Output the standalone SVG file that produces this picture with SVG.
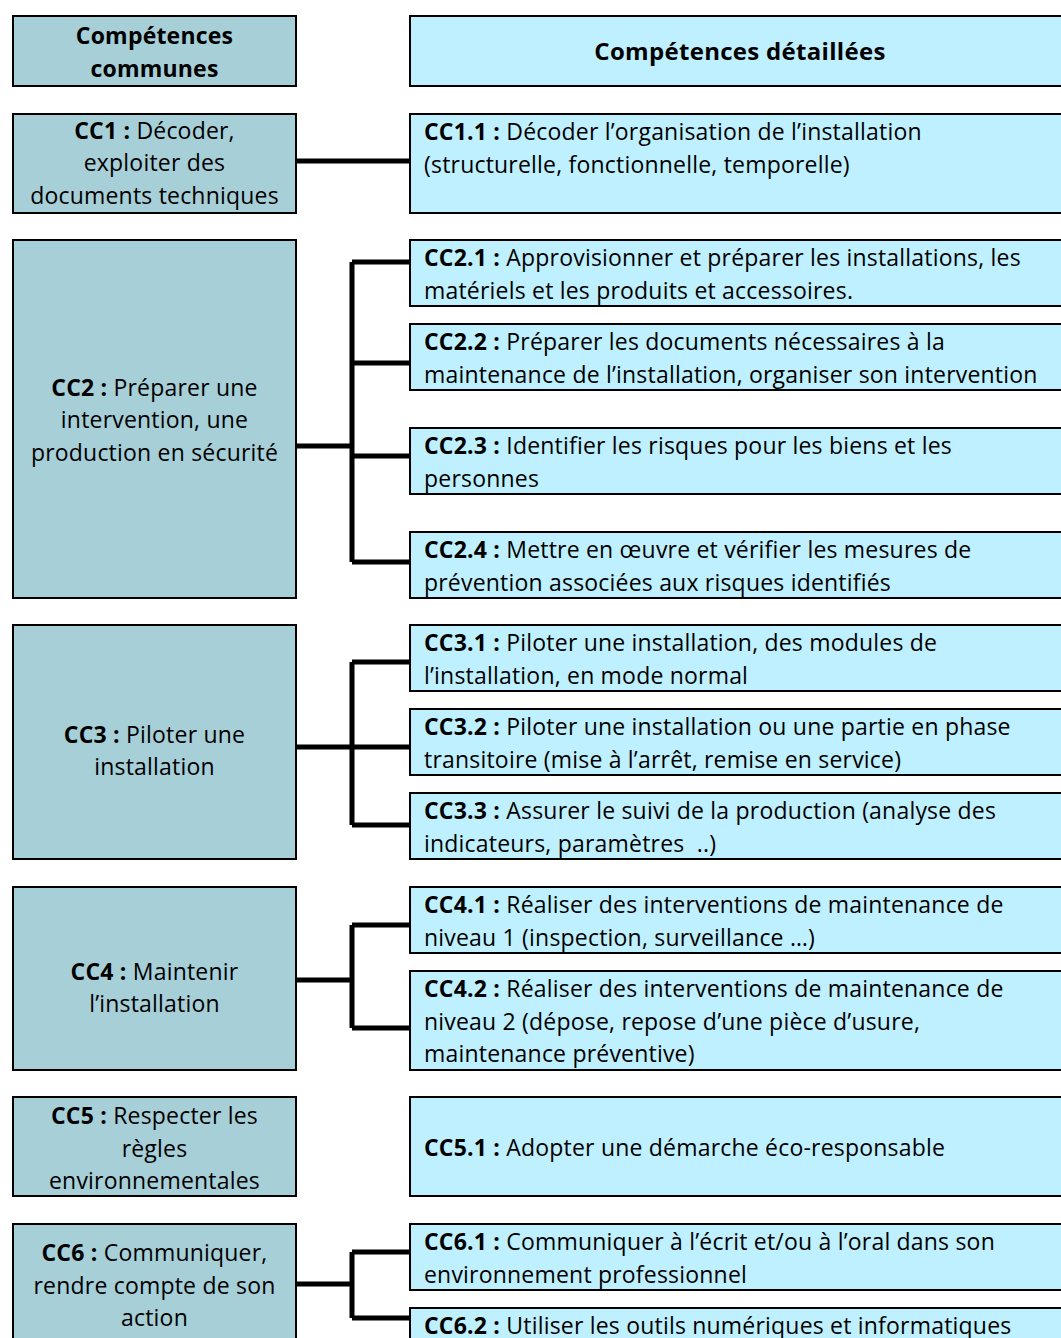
<svg xmlns="http://www.w3.org/2000/svg" width="1061" height="1338" viewBox="0 0 1061 1338">
<style>
.l{fill:#A6CFD8;stroke:#000;stroke-width:2}
.r{fill:#BFF0FF;stroke:#000;stroke-width:2}
text{font-family:"Open Sans","Liberation Sans",sans-serif;font-size:23px;letter-spacing:0.2px;fill:#000}
.c{text-anchor:middle}
.b{font-weight:bold}
.h{font-size:24px;letter-spacing:0.3px}
.w{fill:none;stroke:#000;stroke-width:5}
</style>
<rect x="0" y="0" width="1061" height="1338" fill="#fff"/>
<g id="connectors">
<path class="w" d="M296 161H410"/>
<path class="w" d="M296 446H352M352 262V562M352 262H410M352 363H410M352 456H410M352 562H410"/>
<path class="w" d="M296 747H410M352 662V825M352 662H410M352 825H410"/>
<path class="w" d="M296 980H352M352 925V1028M352 925H410M352 1028H410"/>
<path class="w" d="M296 1284H352M352 1252V1318M352 1252H410M352 1318H410"/>
</g>
<g id="hdr-left"><rect class="l" x="13" y="16" width="283" height="70"/>
<text class="c b" x="154.5" y="44">Compétences</text><text class="c b" x="154.5" y="77">communes</text></g>
<g id="hdr-right"><rect class="r" x="410" y="16" width="660" height="70"/>
<text class="c b h" x="740" y="60">Compétences détaillées</text></g>

<g id="CC1"><rect class="l" x="13" y="114" width="283" height="99"/>
<text class="c" x="154.5" y="139"><tspan class="b">CC1 :</tspan> Décoder,</text>
<text class="c" x="154.5" y="171">exploiter des</text>
<text class="c" x="154.5" y="204">documents techniques</text></g>
<g id="CC1.1"><rect class="r" x="410" y="114" width="660" height="99"/>
<text x="424" y="140"><tspan class="b">CC1.1 :</tspan> Décoder l’organisation de l’installation</text>
<text x="424" y="173">(structurelle, fonctionnelle, temporelle)</text></g>

<g id="CC2"><rect class="l" x="13" y="240" width="283" height="358"/>
<text class="c" x="154.5" y="396"><tspan class="b">CC2 :</tspan> Préparer une</text>
<text class="c" x="154.5" y="428">intervention, une</text>
<text class="c" x="154.5" y="461">production en sécurité</text></g>
<g id="CC2.1"><rect class="r" x="410" y="240" width="660" height="66"/>
<text x="424" y="266"><tspan class="b">CC2.1 :</tspan> Approvisionner et préparer les installations, les</text>
<text x="424" y="299">matériels et les produits et accessoires.</text></g>
<g id="CC2.2"><rect class="r" x="410" y="324" width="660" height="66"/>
<text x="424" y="350"><tspan class="b">CC2.2 :</tspan> Préparer les documents nécessaires à la</text>
<text x="424" y="383">maintenance de l’installation, organiser son intervention</text></g>
<g id="CC2.3"><rect class="r" x="410" y="428" width="660" height="66"/>
<text x="424" y="454"><tspan class="b">CC2.3 :</tspan> Identifier les risques pour les biens et les</text>
<text x="424" y="487">personnes</text></g>
<g id="CC2.4"><rect class="r" x="410" y="532" width="660" height="66"/>
<text x="424" y="558"><tspan class="b">CC2.4 :</tspan> Mettre en œuvre et vérifier les mesures de</text>
<text x="424" y="591">prévention associées aux risques identifiés</text></g>

<g id="CC3"><rect class="l" x="13" y="625" width="283" height="234"/>
<text class="c" x="154.5" y="743"><tspan class="b">CC3 :</tspan> Piloter une</text>
<text class="c" x="154.5" y="775">installation</text></g>
<g id="CC3.1"><rect class="r" x="410" y="625" width="660" height="66"/>
<text x="424" y="651"><tspan class="b">CC3.1 :</tspan> Piloter une installation, des modules de</text>
<text x="424" y="684">l’installation, en mode normal</text></g>
<g id="CC3.2"><rect class="r" x="410" y="709" width="660" height="66"/>
<text x="424" y="735"><tspan class="b">CC3.2 :</tspan> Piloter une installation ou une partie en phase</text>
<text x="424" y="768">transitoire (mise à l’arrêt, remise en service)</text></g>
<g id="CC3.3"><rect class="r" x="410" y="793" width="660" height="66"/>
<text x="424" y="819"><tspan class="b">CC3.3 :</tspan> Assurer le suivi de la production (analyse des</text>
<text x="424" y="852" xml:space="preserve">indicateurs, paramètres  ..)</text></g>

<g id="CC4"><rect class="l" x="13" y="887" width="283" height="183"/>
<text class="c" x="154.5" y="980"><tspan class="b">CC4 :</tspan> Maintenir</text>
<text class="c" x="154.5" y="1012">l’installation</text></g>
<g id="CC4.1"><rect class="r" x="410" y="887" width="660" height="66"/>
<text x="424" y="913"><tspan class="b">CC4.1 :</tspan> Réaliser des interventions de maintenance de</text>
<text x="424" y="946">niveau 1 (inspection, surveillance …)</text></g>
<g id="CC4.2"><rect class="r" x="410" y="971" width="660" height="99"/>
<text x="424" y="997"><tspan class="b">CC4.2 :</tspan> Réaliser des interventions de maintenance de</text>
<text x="424" y="1030">niveau 2 (dépose, repose d’une pièce d’usure,</text>
<text x="424" y="1062">maintenance préventive)</text></g>

<g id="CC5"><rect class="l" x="13" y="1097" width="283" height="99"/>
<text class="c" x="154.5" y="1124"><tspan class="b">CC5 :</tspan> Respecter les</text>
<text class="c" x="154.5" y="1157">règles</text>
<text class="c" x="154.5" y="1189">environnementales</text></g>
<g id="CC5.1"><rect class="r" x="410" y="1097" width="660" height="99"/>
<text x="424" y="1156"><tspan class="b">CC5.1 :</tspan> Adopter une démarche éco-responsable</text></g>

<g id="CC6"><rect class="l" x="13" y="1224" width="283" height="130"/>
<text class="c" x="154.5" y="1261"><tspan class="b">CC6 :</tspan> Communiquer,</text>
<text class="c" x="154.5" y="1294">rendre compte de son</text>
<text class="c" x="154.5" y="1326">action</text></g>
<g id="CC6.1"><rect class="r" x="410" y="1224" width="660" height="66"/>
<text x="424" y="1250"><tspan class="b">CC6.1 :</tspan> Communiquer à l’écrit et/ou à l’oral dans son</text>
<text x="424" y="1283">environnement professionnel</text></g>
<g id="CC6.2"><rect class="r" x="410" y="1308" width="660" height="50"/>
<text x="424" y="1334"><tspan class="b">CC6.2 :</tspan> Utiliser les outils numériques et informatiques</text></g>
</svg>
